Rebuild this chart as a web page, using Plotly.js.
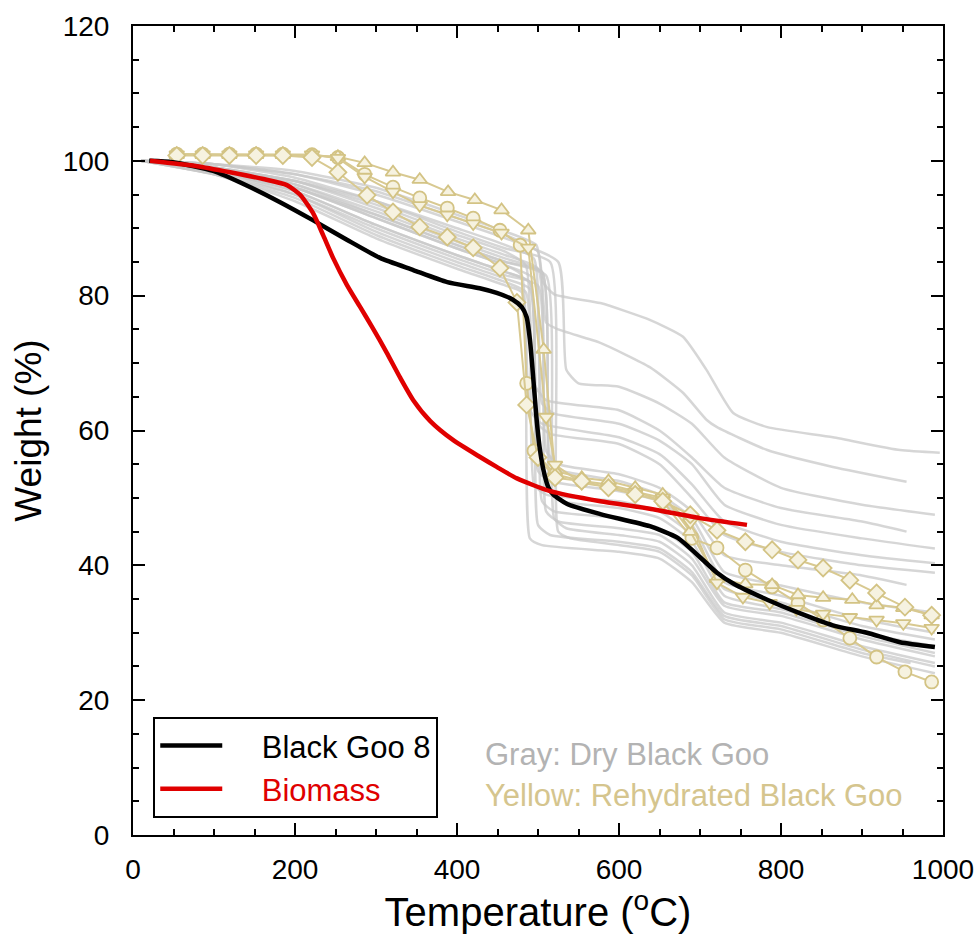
<!DOCTYPE html>
<html>
<head>
<meta charset="utf-8">
<script src="https://cdn.plot.ly/plotly-3.0.1.min.js"></script>
<style>html,body{margin:0;padding:0;background:#fff;}#chart{width:980px;height:945px;}</style>
</head>
<body>
<div id="chart"></div>
<script>
// ---- Black Goo 8 ----
const gooT = [20, 49, 99, 141, 181, 222, 264, 305, 346, 388, 428, 449, 469, 480, 486, 490, 494, 498, 502, 507, 513, 519, 536, 577, 638, 672, 700, 721, 741, 783, 823, 864, 906, 947, 990];
const gooW = [100, 99.8, 98.5, 96.3, 93.9, 91.2, 88.3, 85.6, 83.8, 82.0, 81.1, 80.4, 79.4, 78.3, 76.8, 73.5, 68, 62, 57.5, 54, 51.5, 50.5, 49.1, 47.6, 45.8, 44.1, 41.2, 38.9, 37.3, 34.9, 32.9, 31.1, 30.0, 28.6, 27.9];

// ---- Biomass ----
const bioT = [21, 79, 120, 161, 190, 206, 222, 235, 247, 264, 280, 296, 313, 330, 346, 367, 395, 428, 449, 474, 515, 577, 638, 700, 758];
const bioW = [100, 99.2, 98.3, 97.3, 96.4, 95.0, 92.3, 88.9, 85.6, 81.6, 78.4, 75.2, 71.6, 67.8, 64.5, 61.4, 58.6, 56.1, 54.6, 52.9, 51.0, 49.5, 48.4, 47.0, 46.0];

// ---- Dry Black Goo (gray) ----
const dryT = [
  [10,100,200,300,400,460,498,506,520,577,638,679,708,741,783,864,947,996],
  [10,100,200,300,400,460,500,510,525,577,638,679,708,721,783,864,955],
  [10,100,200,300,400,460,525,535,550,600,650,690,730,800,900,990],
  [10,100,200,300,400,460,485,495,510,600,650,690,730,800,900,955],
  [10,100,200,300,400,460,495,505,520,600,650,690,730,800,900,990],
  [10,100,200,300,400,460,480,490,505,600,650,690,730,800,900,990],
  [10,100,200,300,400,460,490,500,515,600,650,690,730,800,900,990],
  [10,100,200,300,400,460,500,510,525,600,650,690,730,800,900,955],
  [10,100,200,300,400,460,505,515,530,600,650,690,730,800,900,990],
  [10,100,200,300,400,460,490,500,515,600,650,690,730,800,900,990],
  [10,100,200,300,400,460,485,495,510,600,650,690,730,800,900,990],
  [10,100,200,300,400,460,505,515,530,600,650,690,730,800,900,990],
  [10,100,200,300,400,460,495,505,520,600,650,690,730,800,900,990],
  [10,100,200,300,400,460,500,510,525,600,650,690,730,800,900,990],
  [10,100,200,300,400,460,510,520,535,600,650,690,730,800,900,990],
  [10,100,200,300,400,460,490,500,515,600,650,690,730,800,900,990],
  [10,100,200,300,400,460,515,525,540,600,650,690,730,800,900,960],
  [10,100,200,300,400,460,480,490,505,600,650,690,730,800,900,990]
];
const dryW = [
  [100,99.5,98.5,96,92,89.5,87.5,82,80.2,78.9,76.4,73.9,69,62.6,60.5,59,57.1,56.7],
  [100,99.5,98,95.5,91.5,89,86.5,76,75,73,69.4,65.6,61.6,60.5,57.1,54.6,52.4],
  [100,99.5,98,95,91,88.5,85,69,67,66.5,64,61,56,51.5,49,47.5],
  [100,99,97,93.5,89,86.5,84.5,67,64.5,63,60,56,51.5,48.5,46.5,45],
  [100,99,97,94,90,87.5,85.5,64,62.5,61,58.5,55,49,46,44,42.5],
  [100,98.5,96,91.5,87,84.5,83,63,61,59,56.5,52,46.5,43.5,41.5,40.3],
  [100,98.5,95.5,90.5,86,83.5,82,61,59.5,58,55,50,44.5,42,40,38.9],
  [100,99,97,93,88.5,86,84,57,55,53.5,51.5,48,41.5,40,38.5,37.1],
  [100,99,96,92,87.5,85,83.5,55.5,54,52.5,50.5,47,39,37,34.5,33],
  [100,98.5,95,89.5,85,82.5,81,54,52.5,51,49.5,46,37.5,35.5,32,30],
  [100,98,94.5,89,84.5,82,80.5,52,50.5,49.5,48,44.5,36.5,34.5,31,29],
  [100,99,96.5,92.5,88,85.5,83.5,51,49.5,48.5,47,43.5,35.5,33.5,30,28],
  [100,98.5,96,91.5,87,84.5,82.5,49.5,48,47,45.5,42,34.5,33,29.5,27],
  [100,98,95,90,85.5,83,81.5,48,46.5,45.5,44.5,41,34,32.5,29,26.5],
  [100,99,96.5,92,87.5,85,83,47,45.5,44.5,43.5,40,33,31.5,28,25.5],
  [100,98.5,95.5,90.5,86,83.5,82,46,44.5,43.5,42.5,39,32.5,31,27.5,25],
  [100,99.5,97.5,94,89.5,87,85,45,44,43,42,38.5,32,30.5,27,25.5],
  [100,98,94,88.5,84,81.5,80.5,44,43,42,41,37.5,31.5,30,26.5,24]
];

// ---- Rehydrated Black Goo (yellow) ----
const wetNames = ['circle', 'triangle-up', 'triangle-down', 'diamond'];
const wetT = [
  [54,86,119,152,185,221,253,286,321,354,388,420,453,478,486,495,521,554,587,620,654,690,721,756,789,821,852,885,918,953,986],
  [54,86,119,152,185,221,253,286,321,354,389,422,455,488,507,521,554,587,620,654,688,721,756,789,821,852,888,918,951,986],
  [54,86,119,152,185,221,253,286,321,354,388,420,455,488,510,521,554,587,620,654,688,721,753,786,819,852,885,918,951,986],
  [54,86,119,152,185,221,253,289,321,354,388,420,453,474,486,500,521,554,587,620,654,688,721,756,789,821,852,885,918,953,986]
];
const wetW = [
  [101,101,101,101,101,100.9,100.5,98,96.1,94.5,93,91.5,89.7,87.5,67,57,53.5,52.5,52,51,49.5,44,42.6,39.3,36.8,34.4,31.9,29.2,26.4,24.2,22.7],
  [100.9,100.9,100.9,100.9,100.9,100.8,100.6,99.7,98.3,97.2,95.4,94.2,92.7,89.7,72,54,53,52.5,51.5,50.5,45,38,37.2,37.1,35.6,35.2,34.9,34.1,33.7,32.6],
  [100.9,100.9,100.9,100.9,100.9,100.9,100.4,97.6,95.4,93.4,92,90.7,89.3,87.1,62,54.9,52.2,51.6,50.9,50,46.4,37.4,35.3,34.4,33.5,32.8,32.3,31.9,31.4,30.7],
  [100.8,100.8,100.8,100.8,100.8,100.5,98.3,94.9,92.4,90.2,88.7,87.1,84.1,79,63.8,56,53,52.5,51.5,50.5,49.5,47.5,45.2,43.5,42.3,40.8,39.6,37.8,35.9,33.8,32.6]
];

const FONT = 'Liberation Sans, Arial, Helvetica, sans-serif';
const NB = '\u00a0\u00a0\u00a0\u00a0';
const traces = [];
dryT.forEach((t, i) => {
  traces.push({x: t, y: dryW[i], mode: 'lines', showlegend: false, hoverinfo: 'skip',
    line: {color: 'rgba(200,200,200,0.75)', width: 2.5, shape: 'spline', smoothing: 0.5}});
});
wetT.forEach((t, i) => {
  traces.push({x: t, y: wetW[i], mode: 'lines+markers', showlegend: false, hoverinfo: 'skip',
    line: {color: '#d8c991', width: 2},
    marker: {symbol: wetNames[i], size: 13, color: '#f6f2e0', line: {color: '#d3c384', width: 1.8}}});
});
traces.push({x: gooT, y: gooW, mode: 'lines', name: NB + 'Black Goo 8',
  line: {color: '#000000', width: 4.5, shape: 'spline', smoothing: 0.6}});
traces.push({x: bioT, y: bioW, mode: 'lines', name: NB + '<span style="color:#e00000">Biomass</span>',
  line: {color: '#e00000', width: 4.5, shape: 'spline', smoothing: 0.6}});

const axisCommon = {
  showgrid: false, zeroline: false, showline: true, linecolor: '#000', linewidth: 2,
  mirror: 'allticks', ticks: 'inside', ticklen: 12, tickwidth: 2, tickcolor: '#000',
  tickfont: {family: FONT, size: 28, color: '#000'}
};

const layout = {
  width: 980, height: 945,
  margin: {l: 133, r: 37, t: 26, b: 110},
  paper_bgcolor: '#fff', plot_bgcolor: '#fff',
  font: {family: FONT, color: '#000'},
  xaxis: Object.assign({}, axisCommon, {
    range: [0, 1000], tick0: 0, dtick: 200,
    minor: {dtick: 50, ticks: 'inside', ticklen: 6, tickwidth: 2, tickcolor: '#000'},
    ticklabelstandoff: 8,
    title: {text: 'Temperature (<sup>o</sup>C)', font: {family: FONT, size: 40, color: '#000'}, standoff: 12}
  }),
  yaxis: Object.assign({}, axisCommon, {
    range: [0, 120], tick0: 0, dtick: 20,
    minor: {dtick: 5, ticks: 'inside', ticklen: 6, tickwidth: 2, tickcolor: '#000'},
    ticklabelstandoff: 16,
    title: {text: 'Weight (%)', font: {family: FONT, size: 37, color: '#000'}, standoff: 10}
  }),
  legend: {
    x: 0.025, y: 0.146, xanchor: 'left', yanchor: 'top',
    bordercolor: '#000', borderwidth: 2, bgcolor: '#fff',
    font: {family: FONT, size: 31, color: '#000'}, itemwidth: 62, tracegroupgap: 0
  },
  annotations: [
    {xref: 'paper', yref: 'paper', x: 0.432, y: 0.099, xanchor: 'left', yanchor: 'middle', showarrow: false,
     text: 'Gray: Dry Black Goo', font: {family: FONT, size: 31, color: '#b3b3b3'}},
    {xref: 'paper', yref: 'paper', x: 0.432, y: 0.049, xanchor: 'left', yanchor: 'middle', showarrow: false,
     text: 'Yellow: Rehydrated Black Goo', font: {family: FONT, size: 31, color: '#d5c58e'}}
  ]
};

Plotly.newPlot('chart', traces, layout, {displayModeBar: false, staticPlot: true});
</script>
</body>
</html>
